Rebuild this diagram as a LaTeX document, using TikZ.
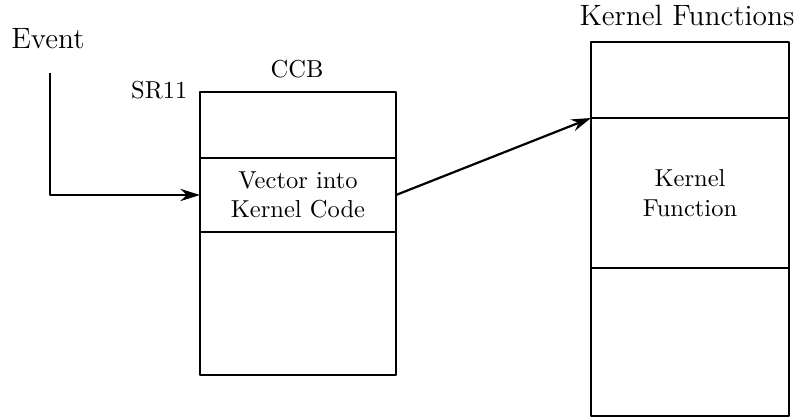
\documentclass[tikz,border=0pt]{standalone}
\usepackage{tikz}
\usetikzlibrary{arrows.meta, positioning}
\tikzset{
	cell/.style={draw, line width=0.9pt, outer sep=0pt, inner sep=0pt, align=center},
	ccbcell/.style={cell, minimum width=80pt},
	kfcell/.style={cell, minimum width=80.8pt},
	vecarrow/.style={line width=0.9pt, -{Stealth[length=8pt,width=5pt]}}
}

\begin{document}
\begin{tikzpicture}[x=0.408pt,y=-0.408pt,line join=round]
		\useasboundingbox (0,0) rectangle (807,419);
		% control block on the left
		\node[ccbcell, minimum height=26.9pt] (ccbtop) at (298,125) {};
		\node[ccbcell, minimum height=30.2pt, below=0pt of ccbtop] (ccbvec) {Vector into\\Kernel Code};
		\node[ccbcell, minimum height=58.3pt, below=0pt of ccbvec] (ccbbot) {};
		\node[anchor=base]      (ccblabel) at (297,77) {CCB};
		\node[anchor=base east] (srlabel)  at (196,98) {SR11};
		% kernel function table on the right
		\node[kfcell, minimum height=31pt] (kftop) at (690,80) {};
		\node[kfcell, minimum height=61.2pt, below=0pt of kftop] (kffun) {Kernel\\Function};
		\node[kfcell, minimum height=60.4pt, below=0pt of kffun] (kfbot) {};
		\node[anchor=base, font=\large] (kflabel) at (687,25) {Kernel Functions};
		% incoming event
		\node[anchor=base, font=\large] (evlabel) at (48,48) {Event};
		\coordinate (evtop) at (50,73);
		\draw[vecarrow] (evtop) |- (ccbvec.west);
		\draw[vecarrow] (ccbvec.east) -- (kffun.north west);
	\end{tikzpicture}
\end{document}
